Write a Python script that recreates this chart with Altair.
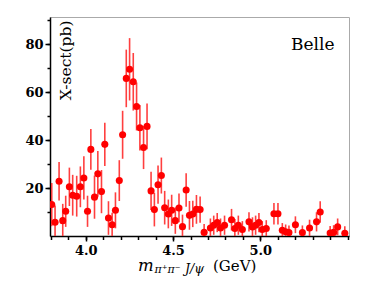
import altair as alt
import pandas as pd

mass = [3.805, 3.824, 3.847, 3.868, 3.885, 3.906, 3.925, 3.948, 3.969, 3.989,
        4.010, 4.029, 4.050, 4.069, 4.090, 4.109, 4.130, 4.151, 4.170, 4.192,
        4.211, 4.232, 4.251, 4.272, 4.291, 4.310, 4.331, 4.351, 4.374, 4.393,
        4.414, 4.433, 4.452, 4.473, 4.492, 4.513, 4.534, 4.554, 4.575, 4.594,
        4.613, 4.634, 4.655, 4.678, 4.714, 4.733, 4.753, 4.772, 4.795, 4.835,
        4.854, 4.874, 4.897, 4.935, 4.955, 4.973, 4.992, 5.011, 5.034, 5.078,
        5.101, 5.126, 5.145, 5.164, 5.201, 5.241, 5.282, 5.322, 5.343, 5.400,
        5.420, 5.443, 5.484]
xsect = [13.1, 5.7, 22.8, 6.4, 10.3, 20.5, 17.0, 16.6, 20.5, 24.2,
         10.3, 36.1, 16.2, 25.9, 18.5, 38.2, 7.5, 4.7, 10.7, 23.1,
         42.2, 65.7, 69.5, 64.3, 54.0, 45.1, 36.9, 45.7, 18.8, 11.0,
         21.4, 25.2, 11.8, 9.2, 10.7, 6.4, 11.7, 3.9, 19.2, 8.6,
         9.2, 11.1, 11.0, 1.5, 3.3, 4.5, 5.6, 3.3, 4.5, 6.8,
         3.1, 4.5, 2.7, 5.9, 3.8, 4.5, 5.6, 2.7, 3.1, 9.3,
         9.3, 2.4, 1.8, 1.4, 4.7, 1.4, 3.3, 5.9, 10.0, 1.2,
         1.5, 3.8, 1.1]
err = [9, 7, 8, 7, 6.5, 8, 8.5, 8.5, 8.5, 9,
       6.5, 8.5, 9, 9.5, 9, 9, 7, 5, 7.5, 8.5,
       10, 12, 13, 12, 10, 9.5, 9, 9.5, 8, 7,
       8, 7.5, 7, 6, 6.5, 5.5, 6, 5, 7, 6,
       5.5, 6, 5.5, 3.5, 4, 4, 4, 4, 4, 4.5,
       4, 4, 3.5, 4, 4, 4, 4, 3.5, 3.5, 4.5,
       4.5, 3, 3, 3, 3.5, 3, 3.5, 4, 4.5, 3,
       3, 3.5, 3]

x_ticks = [3.8, 3.9, 4.0, 4.1, 4.2, 4.3, 4.4, 4.5, 4.6, 4.7, 4.8, 4.9,
           5.0, 5.1, 5.2, 5.3, 5.4, 5.5]
x_labels = [4.0, 4.5, 5.0]
y_ticks = [10, 20, 30, 40, 50, 60, 70, 80, 90]
y_labels = [20, 40, 60, 80]

df = pd.DataFrame({"m": mass, "v": xsect, "e": err})
df["lo"] = df["v"] - df["e"]
df["hi"] = df["v"] + df["e"]

FONT = "DejaVu Serif"

xs = alt.Scale(domain=[3.795, 5.508], nice=False, zero=False)
ys = alt.Scale(domain=[0, 91.3], nice=False)

xaxis_minor = alt.Axis(values=x_ticks, title=None, grid=False, labels=False, orient="bottom",
                       tickSize=3.5, domainColor="black", domainWidth=1.5,
                       tickColor="black", tickWidth=1.5)
yaxis_minor = alt.Axis(values=y_ticks, title=None, grid=False, labels=False, orient="left",
                       tickSize=3, domainColor="black", domainWidth=1.5,
                       tickColor="black", tickWidth=1.5)
xaxis_major = alt.Axis(values=x_labels, title=None, grid=False, labelOverlap=False, orient="bottom",
                       format=".1f", tickSize=5, labelPadding=3, domain=False,
                       tickColor="black", tickWidth=1.5, labelFont=FONT,
                       labelFontWeight="bold", labelFontSize=13, labelColor="black")
yaxis_major = alt.Axis(values=y_labels, grid=False, labelOverlap=False, orient="left",
                       tickSize=5, labelPadding=2, domain=False,
                       tickColor="black", tickWidth=1.5, labelFont=FONT,
                       labelFontWeight="bold", labelFontSize=13, labelColor="black",
                       title="X-sect(pb)", titleFont=FONT, titleFontWeight="normal",
                       titleFontSize=15.5, titleColor="black", titleAngle=270,
                       titleAlign="right", titleBaseline="middle", titleX=15, titleY=3)

base = alt.Chart(df)
bars = base.mark_rule(color="#ff2a2a", strokeWidth=1.6, opacity=0.9, clip=True).encode(
    x=alt.X("m:Q", scale=xs, axis=xaxis_minor),
    y=alt.Y("lo:Q", scale=ys, axis=yaxis_minor),
    y2="hi:Q",
)
pts = base.mark_circle(color="#ff0000", size=50, opacity=1, clip=True).encode(
    x=alt.X("m:Q", scale=xs, axis=xaxis_major),
    y=alt.Y("v:Q", scale=ys, axis=yaxis_major),
)

lab = pd.DataFrame({"t": ["x"]})
def txt(s, x, y, size, style="normal", align="left"):
    return alt.Chart(lab).mark_text(text=s, font=FONT, fontSize=size, fontStyle=style,
                                    align=align, baseline="alphabetic", color="black").encode(
        x=alt.value(x), y=alt.value(y))

m_t = txt("m", 88, 253.5, 16.5, "italic")
sub1 = txt("π⁺π⁻", 104.5, 256, 11, "italic")
sub2 = txt("J/ψ", 135, 256, 12.5, "italic")
gev_t = txt("(GeV)", 163, 253.5, 15)
belle = txt("Belle", 241, 33, 17)

chart = alt.layer(bars, pts, m_t, sub1, sub2, gev_t, belle).resolve_axis(
    x="independent", y="independent"
).properties(
    width=299, height=219,
    autosize=alt.AutoSizeParams(type="none"),
    padding={"left": 42, "top": 9, "right": 26, "bottom": 40},
).configure_view(stroke="#aaaaaa", strokeWidth=1)

chart.save("out.html", embed_options={"renderer": "svg", "actions": False})
